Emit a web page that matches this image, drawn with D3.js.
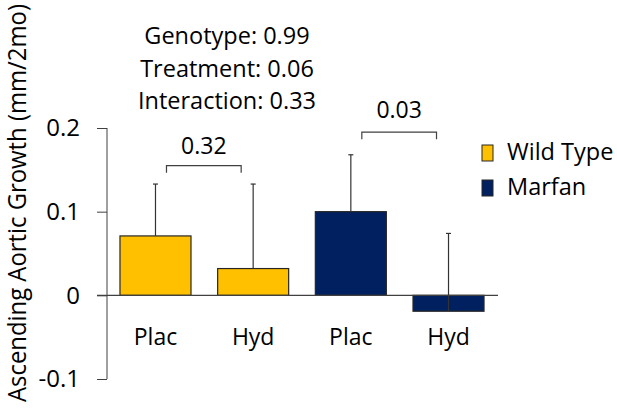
<!DOCTYPE html>
<html>
<head>
<meta charset="utf-8">
<script src="https://cdn.jsdelivr.net/npm/d3@7"></script>
<style>
  body { margin: 0; background: #fff; }
  text { font-family: "Open Sans", "Noto Sans", sans-serif; fill: #000; }
</style>
</head>
<body>
<div id="chart"></div>
<script>
(function() {
  // Data
  const groups = ["Wild Type", "Marfan"];
  const categories = ["Plac", "Hyd", "Plac", "Hyd"];
  const barGroup = ["Wild Type", "Wild Type", "Marfan", "Marfan"];
  const means = [0.071, 0.032, 0.100, -0.019];
  const errors = [0.062, 0.101, 0.068, 0.093];
  const yTicks = [0.2, 0.1, 0, -0.1];
  const pLines = ["Genotype: 0.99", "Treatment: 0.06", "Interaction: 0.33"];
  const comparisons = [
    { from: 0, to: 1, label: "0.32", level: 0.155, gap: 12 },
    { from: 2, to: 3, label: "0.03", level: 0.195, gap: 14 }
  ];

  const width = 617, height = 408;
  const colors = d3.scaleOrdinal().domain(groups).range(["#FFC000", "#002060"]);

  const svg = d3.select("#chart").append("svg")
    .attr("width", width)
    .attr("height", height);

  const y = d3.scaleLinear().domain([-0.1, 0.2]).range([379, 128]);
  const x = d3.scaleBand()
    .domain(d3.range(categories.length))
    .range([106.7, 497.3])
    .paddingInner(0.273)
    .paddingOuter(0.136);

  // Y axis
  const yAxis = svg.append("g")
    .attr("transform", "translate(107,0)")
    .call(d3.axisLeft(y).tickValues(yTicks).tickSize(10).tickPadding(17)
      .tickFormat(d => d === 0 ? "0" : d.toFixed(1)));
  yAxis.select(".domain").attr("stroke", "#404040").attr("d", `M0,${y(0.2)}V${y(-0.1)}`);
  yAxis.selectAll(".tick line").attr("stroke", "#404040");
  yAxis.selectAll(".tick text").style("font-size", "24px").attr("fill", "#000");

  // Axis title, squeezed to the height the reference gives it
  const title = svg.append("text")
    .attr("transform", "translate(26,203) rotate(-90)")
    .attr("text-anchor", "middle")
    .style("font-size", "26px")
    .text("Ascending Aortic Growth (mm/2mo)");
  const len = title.node().getComputedTextLength();
  if (len > 398) {
    title.attr("textLength", 398).attr("lengthAdjust", "spacingAndGlyphs");
  }

  // Bars
  svg.selectAll("rect.bar")
    .data(means)
    .join("rect")
    .attr("class", "bar")
    .attr("x", (d, i) => x(i))
    .attr("width", x.bandwidth())
    .attr("y", d => y(Math.max(0, d)))
    .attr("height", d => Math.abs(y(d) - y(0)))
    .attr("fill", (d, i) => colors(barGroup[i]))
    .attr("stroke", "#262626")
    .attr("stroke-width", 1.2);

  // Error bars
  const eb = svg.selectAll("g.err")
    .data(means)
    .join("g")
    .attr("class", "err")
    .attr("stroke", "#333")
    .attr("stroke-width", 1.2);
  eb.append("line")
    .attr("x1", (d, i) => x(i) + x.bandwidth() / 2)
    .attr("x2", (d, i) => x(i) + x.bandwidth() / 2)
    .attr("y1", d => y(d))
    .attr("y2", (d, i) => y(d + errors[i]));
  eb.append("line")
    .attr("x1", (d, i) => x(i) + x.bandwidth() / 2 - 2.5)
    .attr("x2", (d, i) => x(i) + x.bandwidth() / 2 + 2.5)
    .attr("y1", (d, i) => y(d + errors[i]))
    .attr("y2", (d, i) => y(d + errors[i]));

  // Zero baseline
  svg.append("line")
    .attr("x1", 97).attr("x2", 498)
    .attr("y1", y(0)).attr("y2", y(0))
    .attr("stroke", "#404040")
    .attr("stroke-width", 1.2);

  // Category labels
  svg.selectAll("text.cat")
    .data(categories)
    .join("text")
    .attr("class", "cat")
    .attr("x", (d, i) => x(i) + x.bandwidth() / 2)
    .attr("y", 345)
    .attr("text-anchor", "middle")
    .style("font-size", "23px")
    .text(d => d);

  // Comparison brackets
  comparisons.forEach(c => {
    const x1 = x(c.from) + x.bandwidth() / 2 + 11;
    const x2 = x(c.to) + x.bandwidth() / 2 - 12;
    const yy = y(c.level);
    svg.append("path")
      .attr("d", `M${x1},${yy + 7}V${yy}H${x2}V${yy + 7}`)
      .attr("fill", "none")
      .attr("stroke", "#404040")
      .attr("stroke-width", 1.2);
    svg.append("text")
      .attr("x", (x1 + x2) / 2)
      .attr("y", yy - c.gap)
      .attr("text-anchor", "middle")
      .style("font-size", "23px")
      .text(c.label);
  });

  // ANOVA p-values
  svg.selectAll("text.pval")
    .data(pLines)
    .join("text")
    .attr("class", "pval")
    .attr("x", 227)
    .attr("y", (d, i) => 44 + i * 32.5)
    .attr("text-anchor", "middle")
    .style("font-size", "23.5px")
    .text(d => d);

  // Legend
  const legend = svg.selectAll("g.legend")
    .data(groups)
    .join("g")
    .attr("class", "legend")
    .attr("transform", (d, i) => `translate(482,${145 + i * 35})`);
  legend.append("rect")
    .attr("width", 11)
    .attr("height", 16)
    .attr("fill", d => colors(d))
    .attr("stroke", "#262626")
    .attr("stroke-width", 1);
  legend.append("text")
    .attr("x", 25)
    .attr("y", 15)
    .style("font-size", "23.5px")
    .text(d => d);
})();
</script>
</body>
</html>
